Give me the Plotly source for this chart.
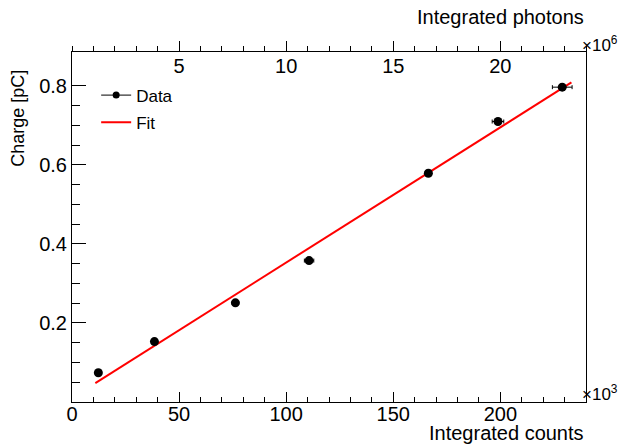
import plotly.graph_objects as go

# Data (x in units of 10^3 counts)
counts_k = [12.3, 38.5, 76.3, 110.7, 166.4, 198.9, 228.9]
counts_err_k = [0.3, 0.8, 1.5, 2.2, 1.5, 2.7, 4.6]
charge_pc = [0.074, 0.153, 0.251, 0.358, 0.579, 0.710, 0.797]

# Fit line end points
fit_counts_k = [10.9, 233.2]
fit_charge_pc = [0.048, 0.809]

x_tickvals = [0, 50, 100, 150, 200]
x_ticktext = ["0", "50", "100", "150", "200"]
top_tickvals = [5, 10, 15, 20]
top_ticktext = ["5", "10", "15", "20"]
y_tickvals = [0.2, 0.4, 0.6, 0.8]
y_ticktext = ["0.2", "0.4", "0.6", "0.8"]

FONT = "Liberation Sans, Arial, Helvetica, sans-serif"
FS = 20

W, H = 622, 439
ML, MR, MT, MB = 64, 44, 44, 45
PW = W - ML - MR
EXP_X = 1 + 34 / PW  # right end of the exponent labels (paper coords)

fig = go.Figure()

fig.add_trace(go.Scatter(
    x=fit_counts_k, y=fit_charge_pc, mode="lines",
    line=dict(color="#ff0000", width=2), showlegend=False, hoverinfo="skip"))

fig.add_trace(go.Scatter(
    x=counts_k, y=charge_pc, mode="markers",
    marker=dict(color="black", size=9),
    error_x=dict(type="data", array=counts_err_k, color="black",
                 thickness=1, width=2),
    showlegend=False))

# legend entries
fig.add_trace(go.Scatter(
    x=[None], y=[None], mode="lines+markers", name="Data",
    line=dict(color="black", width=1), marker=dict(color="black", size=7),
    legendgroup="a"))
fig.add_trace(go.Scatter(
    x=[None], y=[None], mode="lines", name="Fit",
    line=dict(color="#ff0000", width=2), legendgroup="b"))

# empty trace to activate the top axis
fig.add_trace(go.Scatter(x=[None], y=[None], xaxis="x2", yaxis="y",
                         showlegend=False, hoverinfo="skip"))

fig.update_layout(
    width=W, height=H,
    margin=dict(l=ML, r=MR, t=MT, b=MB, autoexpand=False),
    paper_bgcolor="white", plot_bgcolor="white",
    font=dict(family=FONT, size=FS, color="black"),
    showlegend=True,
    legend=dict(x=0.047, y=0.927, xanchor="left", yanchor="top",
                bgcolor="rgba(0,0,0,0)", font=dict(size=17, color="black"),
                traceorder="grouped", tracegroupgap=2),
    xaxis=dict(
        range=[0, 240], showgrid=False, zeroline=False, automargin=False,
        showline=True, linecolor="black", linewidth=1,
        ticks="inside", ticklen=10, tickcolor="black",
        tickvals=x_tickvals, ticktext=x_ticktext, ticklabelstandoff=-6,
        minor=dict(ticks="inside", dtick=10, ticklen=5, tickcolor="black", showgrid=False),
        tickfont=dict(size=FS, color="black"),
    ),
    xaxis2=dict(
        range=[0, 24], overlaying="x", side="top", anchor="y", automargin=False,
        showgrid=False, zeroline=False,
        showline=True, linecolor="black", linewidth=1,
        ticks="outside", ticklen=10, tickcolor="black",
        ticklabelposition="inside", ticklabelstandoff=8,
        tickvals=top_tickvals, ticktext=top_ticktext,
        minor=dict(ticks="outside", dtick=1, ticklen=5, tickcolor="black", showgrid=False),
        tickfont=dict(size=FS, color="black"),
    ),
    yaxis=dict(
        range=[0.0, 0.886], showgrid=False, zeroline=False, automargin=False,
        showline=True, linecolor="black", linewidth=1, mirror=True,
        ticks="inside", ticklen=14, tickcolor="black",
        tickvals=y_tickvals, ticktext=y_ticktext,
        minor=dict(ticks="inside", dtick=0.05, tick0=0, ticklen=8, tickcolor="black", showgrid=False),
        tickfont=dict(size=FS, color="black"),
    ),
    annotations=[
        dict(text="Integrated counts", xref="paper", yref="paper",
             x=1.0, y=-0.052, xanchor="right", yanchor="top",
             showarrow=False, font=dict(size=FS)),
        dict(text="Integrated photons", xref="paper", yref="paper",
             x=1.0, y=1.063, xanchor="right", yanchor="bottom",
             showarrow=False, font=dict(size=FS)),
        dict(text="Charge [pC]", xref="paper", yref="paper",
             x=-0.104, y=0.955, xanchor="center", yanchor="top",
             textangle=-90, showarrow=False, font=dict(size=18)),
        dict(text="×10<sup>6</sup>", xref="paper", yref="paper",
             x=EXP_X, y=1.0, xanchor="right", yanchor="bottom", yshift=-5,
             showarrow=False, font=dict(size=17)),
        dict(text="×10<sup>3</sup>", xref="paper", yref="paper",
             x=EXP_X, y=0.0, xanchor="right", yanchor="bottom", yshift=-4,
             showarrow=False, font=dict(size=17)),
    ],
)

fig.write_html("out.html")
